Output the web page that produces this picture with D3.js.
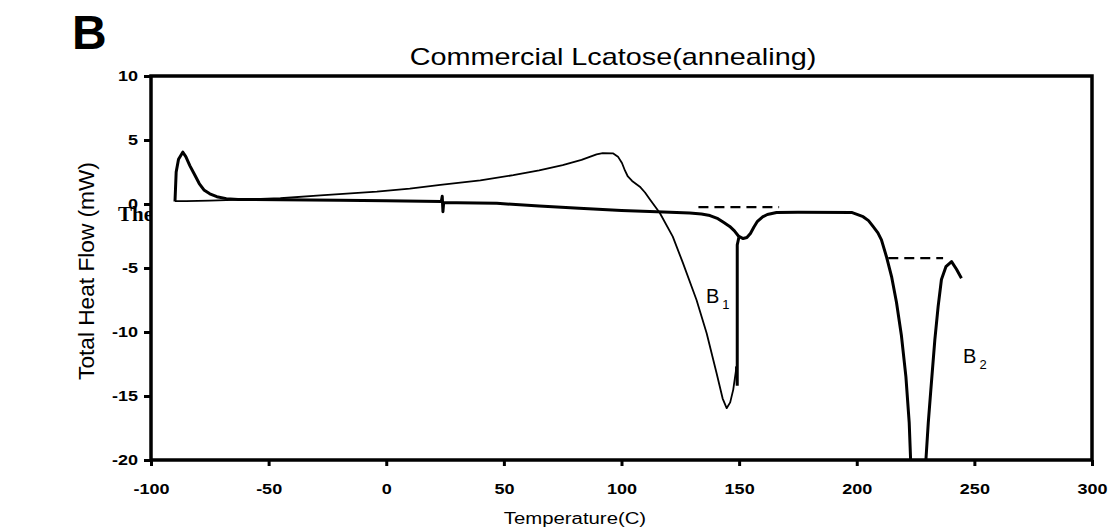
<!DOCTYPE html>
<html>
<head>
<meta charset="utf-8">
<script src="https://cdn.jsdelivr.net/npm/d3@7/dist/d3.min.js"></script>
<style>
  html, body { margin: 0; padding: 0; background: #fff; }
  svg { display: block; }
  text { font-family: "Liberation Sans", Arial, Helvetica, sans-serif; fill: #000; }
</style>
</head>
<body>
<svg id="chart" width="1115" height="532"></svg>
<script>
// Axis ticks
const xTicks = [-100, -50, 0, 50, 100, 150, 200, 250, 300];
const yTicks = [-20, -15, -10, -5, 0, 5, 10];

// Heavy trace: crystallisation spike, baseline, B1 dip and B2 melt
const heavyT = [-89.8, -89.3, -88.3, -86.5, -85.2, -83.5, -81.5, -79.5, -77.5, -75, -72, -68, -63,
  -45, -20, 0, 23.4, 23.8, 24.1, 24.4, 30, 47, 65, 82, 100, 115, 129, 134, 137.6, 141, 143.5, 146,
  148, 149.7, 151.7, 153.3, 154.8, 156.3, 157.8, 160, 162, 165.9, 175, 197.8, 202.7, 205, 207, 209,
  210.5, 212.6, 214.8, 216.9, 219, 220.9, 222.3, 222.9, 224.5, 227.5, 229.4, 230.4, 231.5, 233.2,
  234.6, 236, 237.9, 240.3, 242.4, 244.5];
const heavyV = [0.2, 2.5, 3.5, 4.05, 3.7, 3.0, 2.3, 1.6, 1.1, 0.8, 0.57, 0.42, 0.36,
  0.34, 0.3, 0.26, 0.2, 0.6, -0.6, 0.1, 0.1, 0.05, -0.15, -0.34, -0.5, -0.6, -0.7, -0.78, -0.9, -1.15, -1.45, -1.75,
  -2.1, -2.5, -2.7, -2.62, -2.3, -1.8, -1.35, -1.0, -0.82, -0.66, -0.65, -0.66, -0.99, -1.3, -1.77, -2.25,
  -2.8, -4.1, -5.67, -7.7, -10.3, -13.5, -17.1, -20, -24, -24, -20, -17.1, -14.5, -10.6,
  -8.0, -5.9, -4.9, -4.5, -5.1, -5.8];

// Light trace: slow rise to the 93 C maximum, then the B1 endotherm
const lightT = [-89.8, -85, -75, -68, -60, -45, -28, -4, 10, 23, 40, 54, 65, 75, 83, 89.4, 92, 96.5,
  98.5, 100.2, 101.5, 102.7, 104.5, 107.8, 110, 112.1, 116.3, 121.8, 126.1, 131.9, 136.2, 140.4, 143,
  144.7, 146.2, 147.5, 148.9];
const lightV = [0.22, 0.23, 0.26, 0.3, 0.35, 0.45, 0.68, 0.97, 1.2, 1.5, 1.85, 2.25, 2.62, 3.04, 3.45, 3.88, 3.97, 3.95,
  3.7, 3.2, 2.6, 2.15, 1.8, 1.35, 0.9, 0.35, -0.7, -2.55, -4.6, -7.5, -10.1, -13.2, -15.2,
  -15.95, -15.5, -14.5, -12.7];

// Step joining the B1 minimum back to the heavy trace
const stepT = [148.9, 149.2, 149.2, 149.9];
const stepV = [-12.7, -14.2, -3.2, -2.6];

// Dashed baselines under the two endotherms
const baseB1T = [132.7, 167];
const baseB1V = [-0.25, -0.25];
const baseB2T = [213.4, 236.7];
const baseB2V = [-4.23, -4.23];

// Peak labels: [temperature, heat flow, subscript]
const peakLabels = [[135.9, -7.7, "1"], [245.2, -12.4, "2"]];

const svg = d3.select("#chart");
const W = 1115, H = 532;
const plot = { left: 151, right: 1092, top: 76, bottom: 460 };

svg.append("rect").attr("width", W).attr("height", H).attr("fill", "#fff");

const x = d3.scaleLinear().domain([-100, 300]).range([plot.left, plot.right]);
const y = d3.scaleLinear().domain([-20, 10]).range([plot.bottom, plot.top]);

// widen text horizontally by factor k
function stretch(sel, k) {
  sel.each(function () {
    const w = this.getComputedTextLength();
    this.setAttribute("textLength", w * k);
    this.setAttribute("lengthAdjust", "spacingAndGlyphs");
  });
}

// Panel letter and side text
svg.append("text").attr("x", 72).attr("y", 49)
  .attr("font-size", 48).attr("font-weight", "bold").text("B");
svg.append("text").attr("x", 118).attr("y", 221)
  .style("font-family", '"Liberation Serif", "Times New Roman", serif')
  .attr("font-size", 21).attr("font-weight", "bold").text("The");

// Plot background
svg.append("rect").attr("x", plot.left).attr("y", plot.top)
  .attr("width", plot.right - plot.left).attr("height", plot.bottom - plot.top)
  .attr("fill", "#fff");

// Title
svg.append("text").attr("x", 613).attr("y", 65).attr("text-anchor", "middle")
  .attr("font-size", 24).text("Commercial Lcatose(annealing)")
  .call(stretch, 1.2);

// Axes
const fmt = d => String(d);
const gx = svg.append("g").attr("transform", `translate(0,${plot.bottom})`)
  .call(d3.axisBottom(x).tickValues(xTicks).tickSize(6).tickSizeOuter(0).tickPadding(17)
    .tickFormat(fmt));
const gy = svg.append("g").attr("transform", `translate(${plot.left},0)`)
  .call(d3.axisLeft(y).tickValues(yTicks).tickSize(7).tickSizeOuter(0).tickPadding(6)
    .tickFormat(fmt));
[gx, gy].forEach(g => {
  g.select(".domain").remove();
  g.selectAll(".tick line").attr("stroke", "#000").attr("stroke-width", 3);
  g.selectAll(".tick text").attr("font-size", 15).attr("font-weight", "bold").attr("fill", "#222")
    .style("font-family", '"Liberation Sans", Arial, sans-serif')
    .call(stretch, 1.2);
});

// Axis titles
svg.append("text").attr("x", 575).attr("y", 524).attr("text-anchor", "middle")
  .attr("font-size", 16).text("Temperature(C)").call(stretch, 1.27);
svg.append("text")
  .attr("transform", `translate(94,271) rotate(-90)`)
  .attr("text-anchor", "middle").attr("font-size", 22)
  .text("Total Heat Flow (mW)").call(stretch, 1.03);

// Clip traces to the plotting area
svg.append("clipPath").attr("id", "plotClip").append("rect")
  .attr("x", plot.left).attr("y", plot.top)
  .attr("width", plot.right - plot.left).attr("height", plot.bottom - plot.top);

const line = d3.line().x(d => x(d[0])).y(d => y(d[1])).curve(d3.curveLinear);
const zip = (a, b) => a.map((t, i) => [t, b[i]]);
const traces = svg.append("g").attr("clip-path", "url(#plotClip)");

traces.append("path").datum(zip(lightT, lightV)).attr("d", line)
  .attr("fill", "none").attr("stroke", "#000").attr("stroke-width", 1.8)
  .attr("stroke-linejoin", "round");
traces.append("path").datum(zip(heavyT, heavyV)).attr("d", line)
  .attr("fill", "none").attr("stroke", "#000").attr("stroke-width", 3)
  .attr("stroke-linejoin", "round");
traces.append("path").datum(zip(stepT, stepV)).attr("d", line)
  .attr("fill", "none").attr("stroke", "#000").attr("stroke-width", 3);
[[baseB1T, baseB1V], [baseB2T, baseB2V]].forEach(([t, v]) => {
  traces.append("path").datum(zip(t, v)).attr("d", line)
    .attr("fill", "none").attr("stroke", "#000").attr("stroke-width", 2.2)
    .attr("stroke-dasharray", "10,6");
});

// Frame
svg.append("rect").attr("x", plot.left).attr("y", plot.top)
  .attr("width", plot.right - plot.left).attr("height", plot.bottom - plot.top)
  .attr("fill", "none").attr("stroke", "#000").attr("stroke-width", 3.5);

// Endotherm labels
peakLabels.forEach(([t, v, sub]) => {
  const lbl = svg.append("text").attr("x", x(t)).attr("y", y(v)).attr("font-size", 20);
  lbl.append("tspan").text("B");
  lbl.append("tspan").attr("font-size", 13).attr("dy", 6).attr("dx", 3).text(sub);
});
</script>
</body>
</html>
